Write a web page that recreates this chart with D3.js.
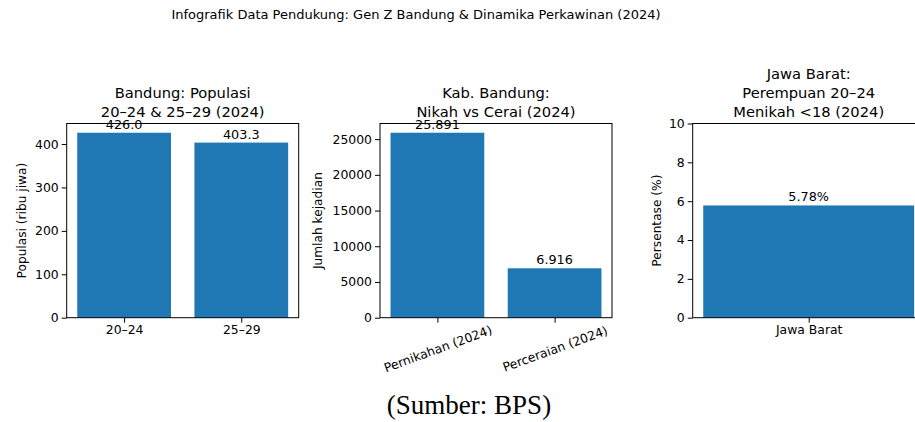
<!DOCTYPE html>
<html>
<head>
<meta charset="utf-8">
<script src="https://cdn.jsdelivr.net/npm/d3@7"></script>
<style>
  body { margin: 0; background: #fff; }
  text { font-family: "DejaVu Sans", sans-serif; fill: #000; }
  .src { font-family: "Liberation Serif", "DejaVu Serif", serif; }
</style>
</head>
<body>
<div id="chart"></div>
<script>
var width = 915, height = 422

// data
var popCats = ['20–24', '25–29']
var popVals = [426.0, 403.3]
var popLabels = ['426.0', '403.3']

var nikahCats = ['Pernikahan (2024)', 'Perceraian (2024)']
var nikahVals = [25891, 6916]
var nikahLabels = ['25.891', '6.916']

var jabarCats = ['Jawa Barat']
var jabarVals = [5.78]
var jabarLabels = ['5.78%']

var panels = [
  { cats: popCats, vals: popVals, labels: popLabels, title: ['Bandung: Populasi', '20–24 & 25–29 (2024)'],
    ylabel: 'Populasi (ribu jiwa)', ticks: [0, 100, 200, 300, 400], ymax: 426.0 * 1.05, left: 66.7, ylabX: 21.5, rot: false },
  { cats: nikahCats, vals: nikahVals, labels: nikahLabels, title: ['Kab. Bandung:', 'Nikah vs Cerai (2024)'],
    ylabel: 'Jumlah kejadian', ticks: [0, 5000, 10000, 15000, 20000, 25000], ymax: 25891 * 1.05, left: 380, ylabX: 318, rot: true },
  { cats: jabarCats, vals: jabarVals, labels: jabarLabels, title: ['Jawa Barat:', 'Perempuan 20–24', 'Menikah <18 (2024)'],
    ylabel: 'Persentase (%)', ticks: [0, 2, 4, 6, 8, 10], ymax: 10, left: 692.7, ylabX: 656.5, rot: false }
]

var axTop = 123.5, axBottom = 317.7, axW = 232
var color = '#1f77b4'

var svg = d3.select('#chart').append('svg').attr('width', width).attr('height', height)

svg.append('text').attr('x', 416).attr('y', 18.5).attr('text-anchor', 'middle')
  .style('font-size', '13px').text('Infografik Data Pendukung: Gen Z Bandung & Dinamika Perkawinan (2024)')

panels.forEach(function(p) {
  var n = p.cats.length
  var m = (n - 1 + 0.8) * 0.05
  var x = d3.scaleLinear().domain([-0.4 - m, n - 1 + 0.4 + m]).range([p.left, p.left + axW])
  var y = d3.scaleLinear().domain([0, p.ymax]).range([axBottom, axTop])
  var g = svg.append('g')

  g.selectAll('.bar').data(p.vals).enter().append('rect')
    .attr('x', function(d, i) { return x(i - 0.4) })
    .attr('width', function(d, i) { return x(i + 0.4) - x(i - 0.4) })
    .attr('y', function(d) { return y(d) })
    .attr('height', function(d) { return y(0) - y(d) })
    .attr('fill', color)

  g.selectAll('.vlab').data(p.vals).enter().append('text')
    .attr('x', function(d, i) { return x(i) })
    .attr('y', function(d) { return y(d) - 4 })
    .attr('text-anchor', 'middle').style('font-size', '12.8px')
    .text(function(d, i) { return p.labels[i] })

  var yAxis = g.append('g').attr('transform', 'translate(' + p.left + ',0)')
    .call(d3.axisLeft(y).tickValues(p.ticks).tickSize(5).tickPadding(3).tickFormat(d3.format('d')))
  var xAxis = g.append('g').attr('transform', 'translate(0,' + axBottom + ')')
    .call(d3.axisBottom(x).tickValues(d3.range(n)).tickSize(5).tickPadding(3).tickFormat(function(d) { return p.cats[d] }))
  ;[yAxis, xAxis].forEach(function(a) {
    a.select('.domain').remove()
    a.selectAll('line').attr('stroke', '#000').attr('stroke-width', 1)
    a.selectAll('text').style('font-size', '12.4px').style('font-family', '"DejaVu Sans", sans-serif').attr('fill', '#000')
  })
  if (p.rot) {
    xAxis.selectAll('text').attr('y', 0).attr('dy', 0)
      .attr('dominant-baseline', 'central')
      .attr('transform', 'translate(0,31) rotate(-20)')
  }

  g.append('rect').attr('x', p.left).attr('y', axTop).attr('width', axW).attr('height', axBottom - axTop)
    .attr('fill', 'none').attr('stroke', '#000').attr('stroke-width', 1)

  g.append('text').attr('transform', 'translate(' + p.ylabX + ',' + ((axTop + axBottom) / 2) + ') rotate(-90)')
    .attr('text-anchor', 'middle').attr('dominant-baseline', 'central').style('font-size', '12.2px').text(p.ylabel)

  var nl = p.title.length
  p.title.forEach(function(t, i) {
    g.append('text').attr('x', p.left + axW / 2).attr('y', axTop - 6.5 - (nl - 1 - i) * 19)
      .attr('text-anchor', 'middle').style('font-size', '14.7px').text(t)
  })
})

svg.append('text').attr('class', 'src').attr('x', 469).attr('y', 414).attr('text-anchor', 'middle')
  .style('font-size', '27px').text('(Sumber: BPS)')
</script>
</body>
</html>
